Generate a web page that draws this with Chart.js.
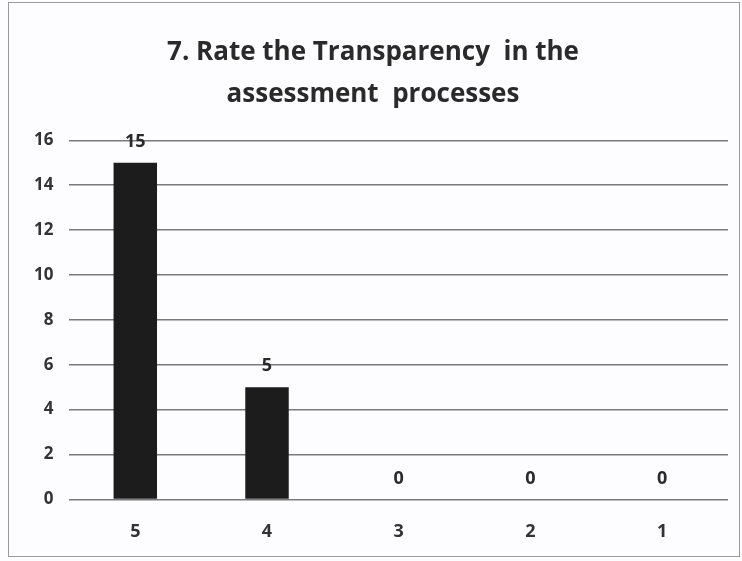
<!DOCTYPE html>
<html><head><meta charset="utf-8">
<script src="https://cdn.jsdelivr.net/npm/chart.js@4"></script>
<style>
html,body{margin:0;padding:0;background:#fff;}
#wrap{position:absolute;left:0;top:0;width:742px;height:561px;background:#fdfcfe;}
#frame{position:absolute;left:8px;top:2px;width:732px;height:555px;box-sizing:border-box;border:1px solid #9a9a9a;}
canvas{position:absolute;left:0;top:0;}
</style></head>
<body>
<div id="wrap"><div id="frame"></div><canvas id="c" width="742" height="561"></canvas></div>
<script>
const categories = ["5","4","3","2","1"];
const counts = [15,5,0,0,0];
const yTicks = [0,2,4,6,8,10,12,14,16];
const titleLines = ["7. Rate the Transparency  in the","assessment  processes"];

const labelPlugin = {
  id:'vals',
  afterDatasetsDraw(chart){
    const ctx = chart.ctx, meta = chart.getDatasetMeta(0);
    ctx.save();
    ctx.font = 'bold 18px "Open Sans", sans-serif';
    ctx.fillStyle = '#2a2a2a';
    ctx.textAlign = 'center';
    ctx.textBaseline = 'bottom';
    meta.data.forEach((b,i)=>{ ctx.fillText(String(counts[i]), b.x, b.y - 12); });
    ctx.restore();
  }
};

new Chart(document.getElementById('c'),{
  type:'bar',
  data:{labels:categories,datasets:[{data:counts,backgroundColor:'#1c1c1c',borderWidth:0,categoryPercentage:1,barPercentage:0.33}]},
  options:{
    responsive:false,animation:false,
    layout:{padding:{left:18,right:14,top:32,bottom:4}},
    plugins:{legend:{display:false},tooltip:{enabled:false},
      title:{display:true,text:titleLines,color:'#2a2a2a',font:{family:'"Open Sans", sans-serif',size:26,weight:'bold',lineHeight:1.6},padding:{top:0,bottom:25}}},
    scales:{
      x:{grid:{display:false},border:{display:false},
         ticks:{color:'#333',font:{family:'"Open Sans", sans-serif',size:18,weight:'bold'},padding:14}},
      y:{min:0,max:16,afterBuildTicks(ax){ax.ticks=yTicks.map(v=>({value:v}));},
         grid:{color:'#7a7a7a',lineWidth:1.4,drawTicks:false},border:{display:false},
         ticks:{color:'#333',font:{family:'"Open Sans", sans-serif',size:17,weight:'bold'},padding:16}}
    }
  },
  plugins:[labelPlugin]
});
</script>
</body></html>
